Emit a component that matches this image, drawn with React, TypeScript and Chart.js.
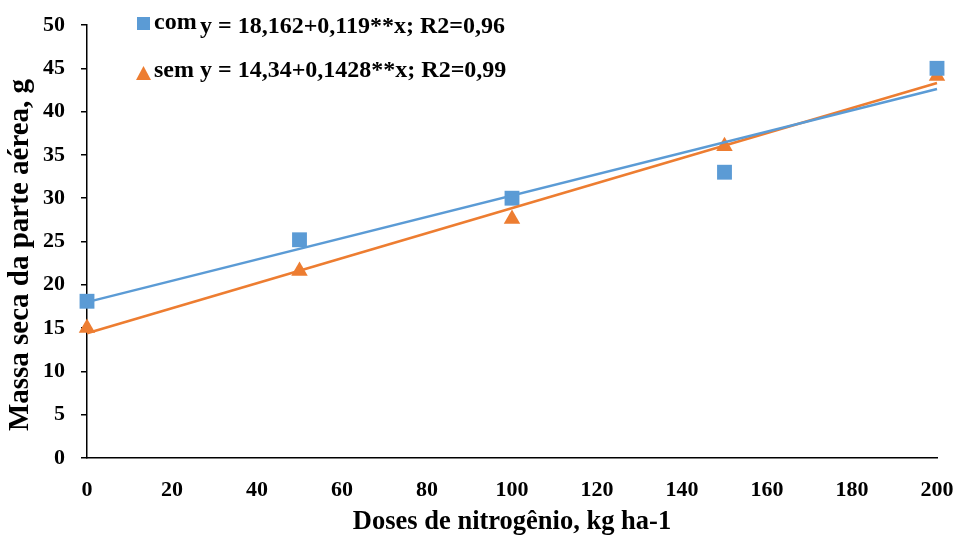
import React, { useEffect, useRef } from "react";
import { Chart, registerables } from "chart.js";

Chart.register(...registerables);

const doses = [0, 50, 100, 150, 200];
const comValues = [18.1, 25.2, 30.0, 33.0, 45.0];
const semValues = [15.0, 21.6, 27.6, 36.0, 44.1];
const trendX = [0, 200];
const comTrend = [18.0, 42.6];
const semTrend = [14.4, 43.3];
const xTicks = [0, 20, 40, 60, 80, 100, 120, 140, 160, 180, 200];
const yTicks = [0, 5, 10, 15, 20, 25, 30, 35, 40, 45, 50];
const comLabel = "com";
const semLabel = "sem";
const comEq = "y = 18,162+0,119**x; R2=0,96";
const semEq = "y = 14,34+0,1428**x; R2=0,99";
const xTitle = "Doses de nitrogênio, kg ha-1";
const yTitle = "Massa seca da parte aérea, g";

const BLUE = "#5B9BD5";
const ORANGE = "#ED7D31";
const FONT = "'Liberation Serif', 'Times New Roman', serif";

export default function App() {
  const ref = useRef<HTMLCanvasElement | null>(null);
  useEffect(() => {
    if (!ref.current) return;
    const overlay = {
      id: "overlay",
      afterDraw(chart: any) {
        const ctx = chart.ctx;
        const area = chart.chartArea;
        ctx.save();
        ctx.fillStyle = "#000";
        // axis titles
        ctx.textAlign = "center";
        ctx.textBaseline = "alphabetic";
        ctx.font = `bold 26.5px ${FONT}`;
        ctx.fillText(xTitle, (area.left + area.right) / 2, 529);
        ctx.save();
        ctx.font = `bold 29px ${FONT}`;
        ctx.textBaseline = "middle";
        ctx.translate(21, 255);
        ctx.rotate(-Math.PI / 2);
        ctx.fillText(yTitle, 0, 0);
        ctx.restore();
        // legend
        ctx.fillStyle = BLUE;
        ctx.fillRect(137, 17, 13, 13);
        ctx.fillStyle = ORANGE;
        ctx.beginPath();
        ctx.moveTo(143.5, 66);
        ctx.lineTo(151, 80);
        ctx.lineTo(136, 80);
        ctx.closePath();
        ctx.fill();
        ctx.fillStyle = "#000";
        ctx.font = `bold 24px ${FONT}`;
        ctx.textAlign = "left";
        ctx.textBaseline = "alphabetic";
        ctx.fillText(comLabel, 154, 29);
        ctx.fillText(comEq, 200, 33);
        ctx.fillText(semLabel + " " + semEq, 154, 77);
        ctx.restore();
      },
    };
    const chart = new Chart(ref.current, {
      type: "scatter",
      data: {
        datasets: [
          {
            label: "com trend",
            data: trendX.map((x, i) => ({ x, y: comTrend[i] })),
            showLine: true,
            borderColor: BLUE,
            borderWidth: 2.5,
            pointRadius: 0,
            clip: false,
          },
          {
            label: "sem trend",
            data: trendX.map((x, i) => ({ x, y: semTrend[i] })),
            showLine: true,
            borderColor: ORANGE,
            borderWidth: 2.5,
            pointRadius: 0,
            clip: false,
          },
          {
            label: comLabel,
            data: doses.map((x, i) => ({ x, y: comValues[i] })),
            pointStyle: "rect",
            pointRadius: 10.5,
            backgroundColor: BLUE,
            borderColor: BLUE,
            borderWidth: 0,
            clip: false,
          },
          {
            label: semLabel,
            data: doses.map((x, i) => ({ x, y: semValues[i] })),
            pointStyle: "triangle",
            pointRadius: 9.5,
            backgroundColor: ORANGE,
            borderColor: ORANGE,
            borderWidth: 0,
            clip: false,
          },
        ],
      },
      options: {
        animation: false,
        responsive: false,
        maintainAspectRatio: false,
        layout: { autoPadding: false, padding: { top: 25, right: 18, left: 0, bottom: 0 } },
        plugins: { legend: { display: false }, tooltip: { enabled: false } },
        scales: {
          x: {
            type: "linear",
            min: 0,
            max: 200,
            afterBuildTicks: (s: any) => {
              s.ticks = xTicks.map((v) => ({ value: v }));
            },
            afterFit: (s: any) => {
              s.height = 78;
              s.paddingLeft = 0;
              s.paddingRight = 0;
            },
            grid: { display: false, drawTicks: false },
            border: { display: true, color: "#000", width: 1.5 },
            ticks: {
              color: "#000",
              padding: 19,
              maxRotation: 0,
              font: { family: FONT, size: 22, weight: "bold" },
            },
          },
          y: {
            type: "linear",
            min: 0,
            max: 50,
            afterBuildTicks: (s: any) => {
              s.ticks = yTicks.map((v) => ({ value: v }));
            },
            afterFit: (s: any) => {
              s.width = 87;
              s.paddingTop = 0;
              s.paddingBottom = 0;
            },
            grid: {
              display: true,
              drawOnChartArea: false,
              drawTicks: true,
              tickLength: 6,
              color: "#000",
              lineWidth: 1.5,
            },
            border: { display: true, color: "#000", width: 1.5 },
            ticks: {
              color: "#000",
              padding: 16,
              font: { family: FONT, size: 22, weight: "bold" },
            },
          },
        },
      },
      plugins: [overlay],
    } as any);
    return () => chart.destroy();
  }, []);
  return (
    <div style={{ position: "fixed", left: 0, top: 0, width: 955, height: 536, background: "#fff" }}>
      <canvas ref={ref} width={955} height={536} style={{ width: 955, height: 536 }} />
    </div>
  );
}
